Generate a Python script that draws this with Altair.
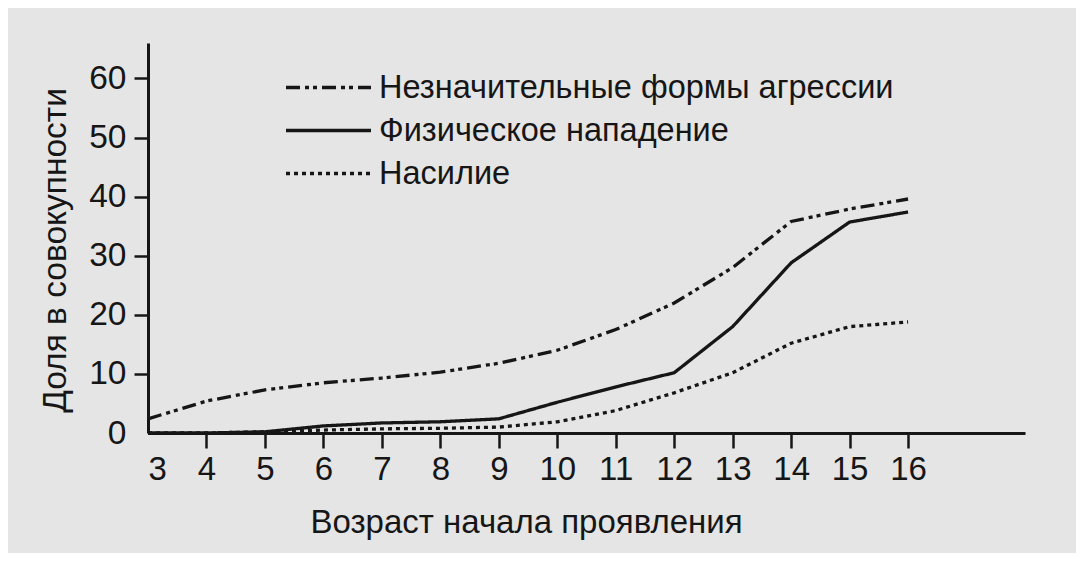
import altair as alt
import pandas as pd

ages = list(range(3, 17))
minor = [2.4, 5.4, 7.3, 8.5, 9.3, 10.3, 11.8, 14.0, 17.5, 22.0, 28.0, 35.8, 37.9, 39.6]
physical = [0, 0, 0.2, 1.2, 1.7, 1.9, 2.4, 5.2, 7.8, 10.2, 18.0, 28.8, 35.7, 37.4]
violence = [0, 0, 0.2, 0.5, 0.7, 0.8, 1.0, 1.9, 3.8, 6.8, 10.2, 15.2, 18.0, 18.8]
series = ["Незначительные формы агрессии", "Физическое нападение", "Насилие"]
y_ticks = [0, 10, 20, 30, 40, 50, 60]

rows = []
for name, vals in zip(series, [minor, physical, violence]):
    for a, v in zip(ages, vals):
        rows.append({"age": a, "share": v, "series": name})
df = pd.DataFrame(rows)

FONT = "Liberation Sans"
INK = "#161616"

chart = alt.Chart(df).mark_line(color=INK, strokeCap="butt").encode(
    x=alt.X("age:Q",
            scale=alt.Scale(domain=[3, 18], nice=False, zero=False),
            axis=alt.Axis(values=ages, format="d", grid=False,
                          tickSize=15, tickWidth=2.5, tickColor=INK,
                          tickOpacity=alt.ExprRef("datum.value == 3 ? 0 : 1"),
                          domainWidth=3, domainColor=INK,
                          labelFontSize=33, labelFont=FONT, labelColor=INK, labelPadding=5,
                          title="Возраст начала проявления", titleFontSize=33,
                          titleFont=FONT, titleFontWeight="normal", titleColor=INK,
                          titleX=378, titleY=89, titleAlign="center", titleBaseline="middle")),
    y=alt.Y("share:Q",
            scale=alt.Scale(domain=[0, 66], nice=False),
            axis=alt.Axis(values=y_ticks, grid=False,
                          tickSize=14, tickWidth=2.5, tickColor=INK,
                          tickOpacity=alt.ExprRef("datum.value == 0 ? 0 : 1"),
                          domainWidth=3, domainColor=INK,
                          labelFontSize=33.5, labelFont=FONT, labelColor=INK, labelPadding=8,
                          title="Доля в совокупности", titleFontSize=33.5,
                          titleFont=FONT, titleFontWeight="normal", titleColor=INK,
                          titleX=-93, titleY=207, titleAngle=-90,
                          titleAlign="center", titleBaseline="middle")),
    strokeDash=alt.StrokeDash("series:N",
        scale=alt.Scale(domain=series, range=[[14, 5, 4, 4, 4, 5], [1, 0], [4, 4]]),
        legend=alt.Legend(title=None, orient="none", legendX=136, legendY=28,
                          symbolType="stroke", symbolSize=7225, symbolStrokeWidth=3.3,
                          symbolStrokeColor=INK, clipHeight=33, rowPadding=10,
                          labelOffset=6,
                          labelFontSize=32.5, labelFont=FONT, labelColor=INK,
                          labelLimit=800)),
    strokeWidth=alt.StrokeWidth("series:N",
        scale=alt.Scale(domain=series, range=[3.3, 3.3, 4]), legend=None),
    order="age:Q",
).properties(
    width=877, height=390,
    background="#e5e5e5",
    padding={"left": 140, "top": 35, "right": 51, "bottom": 120},
    autosize=alt.AutoSizeParams(type="none"),
).configure_view(stroke=None)

chart.save("out.html", embed_options={"renderer": "svg", "actions": False})
